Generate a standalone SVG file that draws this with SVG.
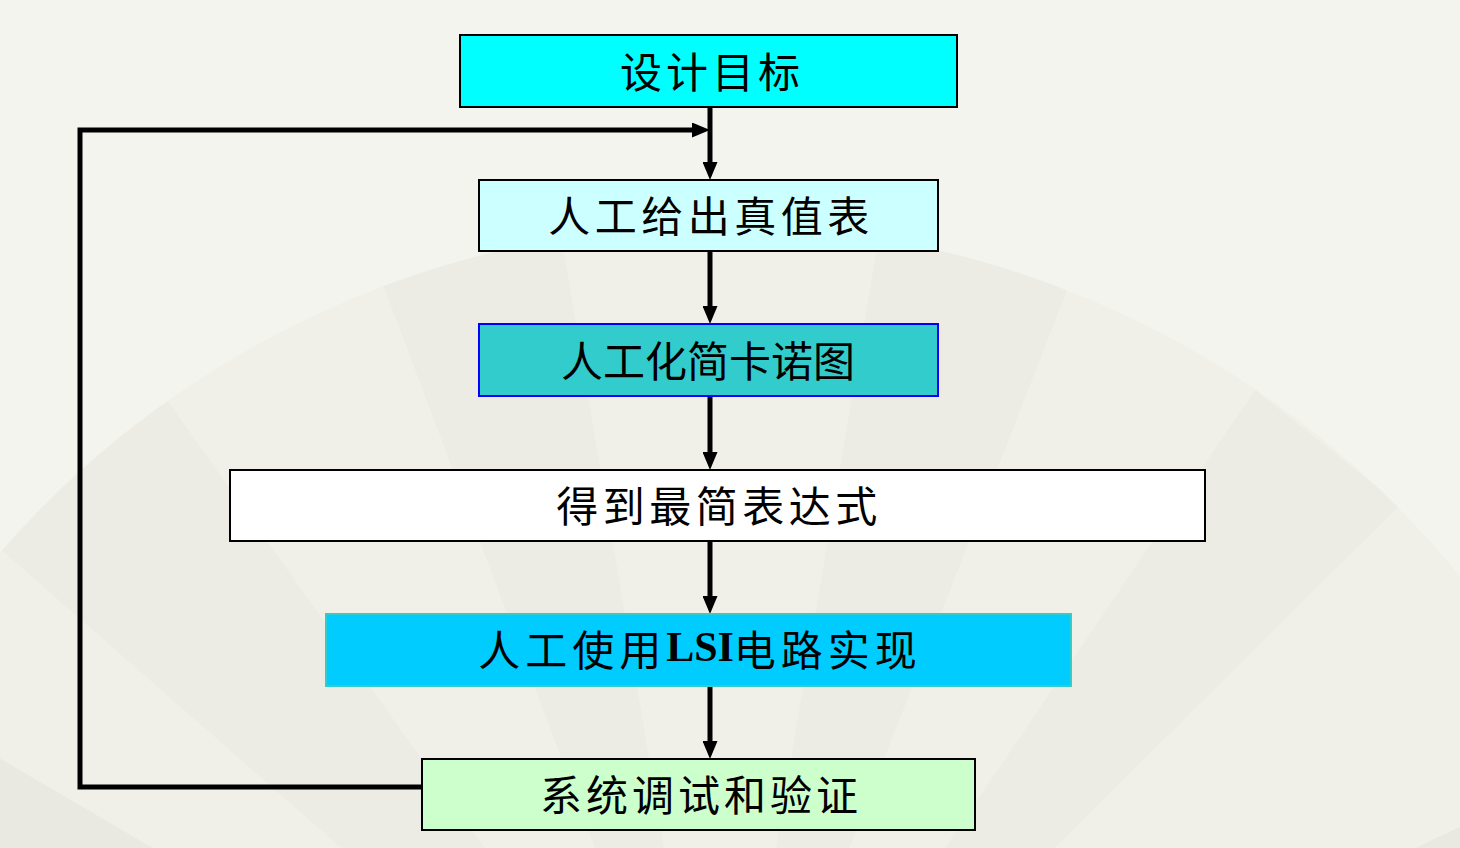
<svg xmlns="http://www.w3.org/2000/svg" width="1460" height="848" viewBox="0 0 1460 848">
  <style>
    .box { stroke: #000; stroke-width: 2; }
    .lbl { font-family: "Noto Sans CJK SC", "Noto Sans", sans-serif; font-size: 42px; fill: #000; text-anchor: middle; dominant-baseline: central; }
    .lat { font-family: "Liberation Serif", "Noto Sans CJK SC", serif; font-weight: bold; letter-spacing: 0; }
    .conn { fill: none; stroke: #000; stroke-width: 5; }
    .panel { fill: #ECECE4; }
  </style>
  <defs>
    <marker id="ah" viewBox="0 0 18 15" refX="0" refY="7.5" markerWidth="18" markerHeight="15" markerUnits="userSpaceOnUse" orient="auto">
      <path d="M0,0 L18,7.5 L0,15 z" fill="#000"/>
    </marker>
    <clipPath id="fanclip">
      <circle cx="720" cy="1180" r="955"/>
    </clipPath>
  </defs>

  <!-- background -->
  <rect x="0" y="0" width="1460" height="848" fill="#F4F4EE"/>
  <g id="fan">
    <circle cx="720" cy="1180" r="955" fill="#F0F0E9"/>
    <g clip-path="url(#fanclip)">
      <path class="panel" d="M720,1180 L370,250 L560,228 z"/>
      <path class="panel" d="M720,1180 L880,230 L1075,270 z"/>
      <path class="panel" d="M720,1180 L1255,390 L1400,505 z"/>
      <path class="panel" d="M720,1180 L160,390 L-10,540 z"/>
      <path d="M720,1180 L-100,700 L-100,848 z" fill="#E9E9E1"/>
      <path d="M720,1180 L1600,760 L1600,848 z" fill="#E9E9E1"/>
    </g>
  </g>

  <!-- connectors -->
  <g id="connectors">
    <path class="conn" d="M710,107 V162" marker-end="url(#ah)"/>
    <path class="conn" d="M710,251 V306" marker-end="url(#ah)"/>
    <path class="conn" d="M710,396 V452" marker-end="url(#ah)"/>
    <path class="conn" d="M710,541 V596" marker-end="url(#ah)"/>
    <path class="conn" d="M710,686 V741" marker-end="url(#ah)"/>
    <path class="conn" d="M422,787 H80 V130 H692" marker-end="url(#ah)"/>
  </g>

  <!-- nodes -->
  <g id="n1">
    <rect class="box" x="460" y="35" width="497" height="72" fill="#00FFFF"/>
    <text class="lbl" x="712" y="69" letter-spacing="4">设计目标</text>
  </g>
  <g id="n2">
    <rect class="box" x="479" y="180" width="459" height="71" fill="#CCFFFF"/>
    <text class="lbl" x="711" y="213" letter-spacing="4.5">人工给出真值表</text>
  </g>
  <g id="n3">
    <rect x="479" y="324" width="459" height="72" fill="#33CCCC" stroke="#0000FF" stroke-width="2"/>
    <text class="lbl" x="708" y="358">人工化简卡诺图</text>
  </g>
  <g id="n4">
    <rect class="box" x="230" y="470" width="975" height="71" fill="#FFFFFF"/>
    <text class="lbl" x="719" y="503" letter-spacing="4.5">得到最简表达式</text>
  </g>
  <g id="n5">
    <rect x="326" y="614" width="745" height="72" fill="#00CCFF" stroke="#33CCCC" stroke-width="2"/>
    <text class="lbl" x="700" y="647" letter-spacing="5">人工使用<tspan class="lat">LSI</tspan>电路实现</text>
  </g>
  <g id="n6">
    <rect class="box" x="422" y="759" width="553" height="71" fill="#CCFFCC"/>
    <text class="lbl" x="701" y="792" letter-spacing="4">系统调试和验证</text>
  </g>
</svg>
